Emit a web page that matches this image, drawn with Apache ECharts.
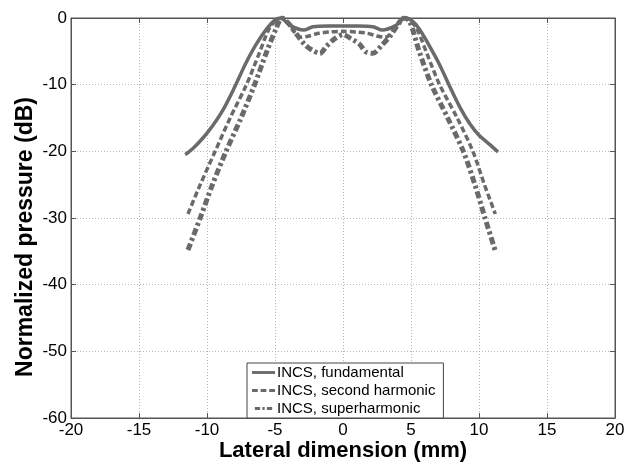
<!DOCTYPE html>
<html>
<head>
<meta charset="utf-8">
<script src="https://cdn.jsdelivr.net/npm/echarts@6/dist/echarts.min.js"></script>
<style>html,body{margin:0;padding:0;background:#fff}#c{width:641px;height:463px}</style>
</head>
<body>
<div id="c"></div>
<script>
var seriesNames = ['INCS, fundamental', 'INCS, second harmonic', 'INCS, superharmonic'];
var xTicks = [-20, -15, -10, -5, 0, 5, 10, 15, 20];
var yTicks = [-60, -50, -40, -30, -20, -10, 0];

var xFund = [-11.6,-11,-10.3,-9.6,-8.8,-8,-7.2,-6.4,-5.6,-5.0,-4.6,-3.9,-2.9,-2.2,-1.1,0,1.1,2.2,2.9,3.9,4.6,5.0,5.6,6.3,7.1,7.9,8.6,9.3,10,10.8,11.4];
var yFund = [-20.5,-19.5,-18,-16.2,-13.7,-10.5,-7,-4,-1.6,-0.3,0,-1.1,-1.8,-1.3,-1.2,-1.2,-1.2,-1.3,-1.8,-1.1,0,-0.3,-1.6,-4,-7,-10.5,-13.4,-15.8,-17.6,-19,-20.1];

var xSecond = [-11.4,-10.5,-9.4,-8.3,-7.1,-6.2,-5.4,-4.8,-4.4,-3.9,-3.1,-2.5,-1.8,-1,0,1,1.8,2.5,3.1,3.9,4.4,4.8,5.4,6.2,7.1,8.4,9.55,10.4,11.2];
var ySecond = [-29.4,-25,-20,-15,-10,-5.5,-1.5,-0.2,0,-1.2,-2.9,-2.7,-2.3,-2.1,-2.0,-2.1,-2.3,-2.7,-2.9,-1.2,0,-0.2,-1.5,-5.5,-10,-15,-20,-25,-29.4];

var xSuper = [-11.4,-10.5,-9.6,-8.6,-7.5,-6.5,-5.6,-4.9,-4.5,-4.0,-3.5,-2.8,-2.2,-1.7,-1.2,-0.6,0,0.6,1.2,1.7,2.2,2.8,3.5,4.0,4.5,4.9,5.6,6.5,7.7,8.85,9.7,10.44,11.18];
var ySuper = [-34.8,-30,-25,-20,-15,-10,-5,-1.5,0,-0.8,-2.2,-4.0,-4.9,-5.3,-4.2,-3.1,-2.5,-3.1,-3.9,-5.1,-5.3,-4.2,-2.6,-1.1,0,-0.5,-5,-10,-15,-20,-25,-30,-34.8];

function zip(xs, ys) { return xs.map(function (x, i) { return [x, ys[i]]; }); }

var lineColor = '#6a6a6a';
var axisColor = '#555';
var gridStyle = { color: '#b8b8b8', type: [1, 2], width: 1 };
var font = 'Liberation Sans, Arial, sans-serif';

var legendIcons = [
  'path://M0,0H24V3H0Z',
  'path://M0,0H6V3H0Z M9,0H15V3H9Z M18,0H24V3H18Z',
  'path://M0,0H7V4H0Z M10,0H13V4H10Z M16,0H23V4H16Z'
];

var chart = echarts.init(document.getElementById('c'), null, { renderer: 'canvas' });
chart.setOption({
  animation: false,
  backgroundColor: '#fff',
  grid: { left: 71, right: 26, top: 18, bottom: 45, outerBoundsMode: 'none', containLabel: false,
          show: true, borderColor: axisColor, borderWidth: 1, backgroundColor: 'transparent' },
  xAxis: [{
    type: 'value', min: xTicks[0], max: xTicks[xTicks.length - 1], interval: 5,
    name: 'Lateral dimension (mm)', nameLocation: 'middle', nameGap: 22, nameMoveOverlap: false,
    nameTextStyle: { fontFamily: font, fontWeight: 'bold', fontSize: 22, color: '#000' },
    axisLine: { onZero: false, lineStyle: { color: axisColor } },
    axisTick: { inside: true, length: 5, lineStyle: { color: axisColor } },
    axisLabel: { fontFamily: font, fontSize: 17, color: '#000', margin: 4 },
    splitLine: { show: true, lineStyle: gridStyle }
  }, {
    type: 'value', position: 'top', min: xTicks[0], max: xTicks[xTicks.length - 1], interval: 5,
    axisLine: { show: true, onZero: false, lineStyle: { color: axisColor } },
    axisTick: { show: true, inside: true, length: 5, lineStyle: { color: axisColor } },
    axisLabel: { show: false }, splitLine: { show: false }
  }],
  yAxis: [{
    type: 'value', min: yTicks[0], max: yTicks[yTicks.length - 1], interval: 10,
    name: 'Normalized pressure (dB)', nameLocation: 'middle', nameGap: 34, nameMoveOverlap: false,
    nameTextStyle: { fontFamily: font, fontWeight: 'bold', fontSize: 23, color: '#000', padding: [0, 38, 0, 0] },
    axisLine: { show: true, onZero: false, lineStyle: { color: axisColor } },
    axisTick: { show: true, inside: true, length: 5, lineStyle: { color: axisColor } },
    axisLabel: { fontFamily: font, fontSize: 17, color: '#000', margin: 4 },
    splitLine: { show: true, lineStyle: gridStyle }
  }, {
    type: 'value', position: 'right', min: yTicks[0], max: yTicks[yTicks.length - 1], interval: 10,
    axisLine: { show: true, onZero: false, lineStyle: { color: axisColor } },
    axisTick: { show: true, inside: true, length: 5, lineStyle: { color: axisColor } },
    axisLabel: { show: false }, splitLine: { show: false }
  }],
  legend: {
    orient: 'vertical', left: 247, bottom: 45,
    backgroundColor: '#fff', borderColor: '#444', borderWidth: 1,
    padding: [2, 8, 2, 5], itemGap: 3, itemWidth: 23, itemHeight: 3,
    textStyle: { fontFamily: font, fontSize: 15, color: '#000', padding: [0, 0, 0, -3] },
    data: seriesNames.map(function (n, i) { return { name: n, icon: legendIcons[i] }; })
  },
  series: [{
    name: seriesNames[0], type: 'line', symbol: 'none', smooth: 0.3,
    data: zip(xFund, yFund), lineStyle: { color: lineColor, width: 3.5, type: 'solid' }, itemStyle: { color: lineColor }
  }, {
    name: seriesNames[1], type: 'line', symbol: 'none', smooth: 0.3,
    data: zip(xSecond, ySecond), lineStyle: { color: lineColor, width: 3.5, type: [6, 3] }, itemStyle: { color: lineColor }
  }, {
    name: seriesNames[2], type: 'line', symbol: 'none', smooth: 0.3,
    data: zip(xSuper, ySuper), lineStyle: { color: lineColor, width: 5, type: [7, 3, 3, 3] }, itemStyle: { color: lineColor }
  }]
});
</script>
</body>
</html>
